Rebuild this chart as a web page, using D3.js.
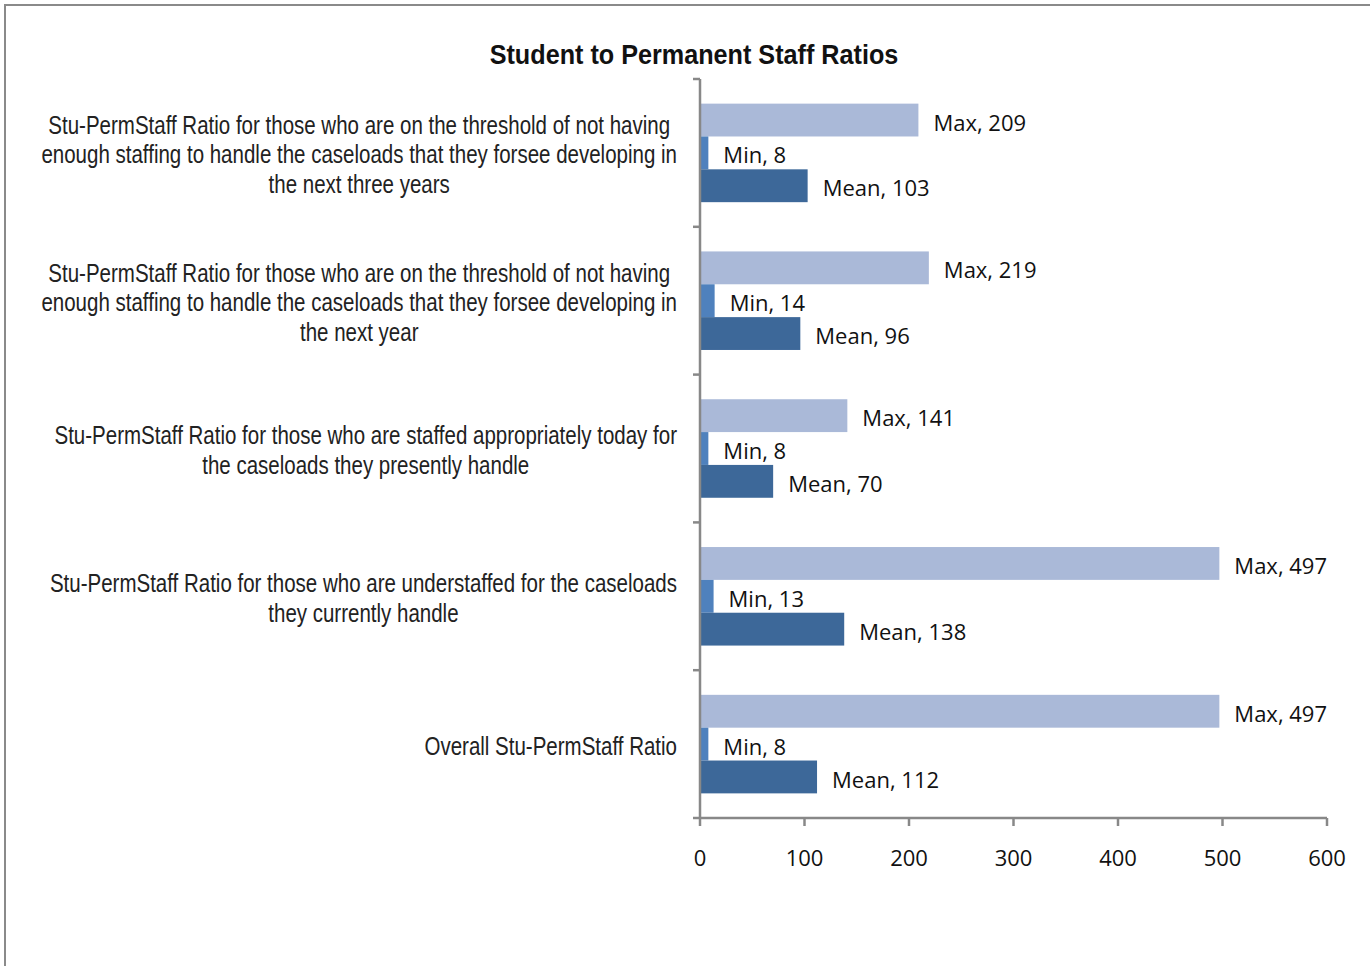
<!DOCTYPE html>
<html>
<head>
<meta charset="utf-8">
<script src="https://cdn.jsdelivr.net/npm/d3@7"></script>
<style>
body { margin: 0; background: #fff; }
svg { display: block; }
.cat text { font-family: "Liberation Sans", Arial, sans-serif; font-size: 25px; fill: #222; }
.title { font-family: "Liberation Sans", Arial, sans-serif; font-weight: bold; font-size: 28px; fill: #111; }
.val, .xaxis text { font-family: "Open Sans", "Lato", sans-serif; font-size: 22px; fill: #111; }
.axis-line { stroke: #888; stroke-width: 2.5; fill: none; }
</style>
</head>
<body>
<svg width="1370" height="966"></svg>
<script>
// categories, top to bottom
var categories = [
  ["Stu-PermStaff Ratio  for those who are on the threshold of not having",
   "enough staffing to handle the caseloads  that they forsee developing  in",
   "the next  three years"],
  ["Stu-PermStaff Ratio for those who are on the threshold of not having",
   "enough staffing to handle the caseloads  that they forsee developing  in",
   "the next  year"],
  ["Stu-PermStaff Ratio for those who are staffed appropriately today for",
   "the caseloads  they presently  handle"],
  ["Stu-PermStaff Ratio for those who are understaffed for the caseloads",
   "they currently handle"],
  ["Overall Stu-PermStaff Ratio"]
];
var series = ["Max", "Min", "Mean"];
var maxVals  = [209, 219, 141, 497, 497];
var minVals  = [8, 14, 8, 13, 8];
var meanVals = [103, 96, 70, 138, 112];
var xTicks = [0, 100, 200, 300, 400, 500, 600];
var colors = {Max: "#aab9d8", Min: "#4f81bd", Mean: "#3d6899"};

var narrow = 0.82;   // stand-in for a condensed face

var svg = d3.select("svg");

// frame
svg.append("path").attr("d", "M5,966V5H1370").attr("stroke", "#8a8a8a").attr("stroke-width", 2).attr("fill", "none");

svg.append("g").attr("transform", "translate(694,64) scale(0.9,1)")
  .append("text").attr("class", "title").attr("text-anchor", "middle")
  .text("Student to Permanent Staff Ratios");

var x = d3.scaleLinear().domain([0, 600]).range([700, 1327]);
var y = d3.scaleBand().domain(d3.range(categories.length)).range([79, 818]).padding(0);
var bw = y.bandwidth();
var ySub = d3.scaleBand().domain(series).range([bw / 6, bw * 5 / 6]).padding(0);

var rows = [];
categories.forEach(function(c, i) {
  rows.push({cat: i, s: "Max", v: maxVals[i]});
  rows.push({cat: i, s: "Min", v: minVals[i]});
  rows.push({cat: i, s: "Mean", v: meanVals[i]});
});

svg.append("g").selectAll("rect").data(rows).enter().append("rect")
  .attr("x", x(0))
  .attr("y", d => y(d.cat) + ySub(d.s))
  .attr("width", d => x(d.v) - x(0))
  .attr("height", ySub.bandwidth())
  .attr("fill", d => colors[d.s]);

svg.append("g").selectAll("text").data(rows).enter().append("text")
  .attr("class", "val")
  .attr("x", d => x(d.v) + 15)
  .attr("y", d => y(d.cat) + ySub(d.s) + ySub.bandwidth() / 2)
  .attr("dy", "0.48em")
  .text(d => d.s + ", " + d.v);

// axes
var xa = svg.append("g").attr("class", "xaxis");
xa.append("line").attr("class", "axis-line").attr("x1", x(0)).attr("x2", x(600)).attr("y1", 818).attr("y2", 818);
xa.selectAll(".tk").data(xTicks).enter().append("line").attr("class", "axis-line")
  .attr("x1", d => x(d)).attr("x2", d => x(d)).attr("y1", 818).attr("y2", 826);
xa.selectAll("text").data(xTicks).enter().append("text")
  .attr("x", d => x(d)).attr("y", 858).attr("dy", "0.36em").attr("text-anchor", "middle")
  .text(d => d);

var ya = svg.append("g");
ya.append("line").attr("class", "axis-line").attr("x1", x(0)).attr("x2", x(0)).attr("y1", 79).attr("y2", 818);
ya.selectAll("line.tk").data(d3.range(categories.length + 1)).enter().append("line").attr("class", "axis-line tk")
  .attr("x1", 693).attr("x2", x(0))
  .attr("y1", d => 79 + d * bw).attr("y2", d => 79 + d * bw);

// category labels: block right-aligned at axis, lines centred within block
var lineH = 29.5;
var cat = svg.append("g").attr("class", "cat");
categories.forEach(function(lines, i) {
  var cy = y(i) + bw / 2 + 1.5;
  var gs = lines.map(function(l, j) {
    var g = cat.append("g");
    g.attr("data-y", cy + (j - (lines.length - 1) / 2) * lineH);
    g.append("text").attr("text-anchor", "middle").attr("dy", "0.36em").text(l);
    return g;
  });
  var w = d3.max(gs, g => g.select("text").node().getComputedTextLength()) * narrow;
  gs.forEach(g => g.attr("transform", "translate(" + (677 - w / 2) + "," + g.attr("data-y") + ") scale(" + narrow + ",1)"));
});
</script>
</body>
</html>
